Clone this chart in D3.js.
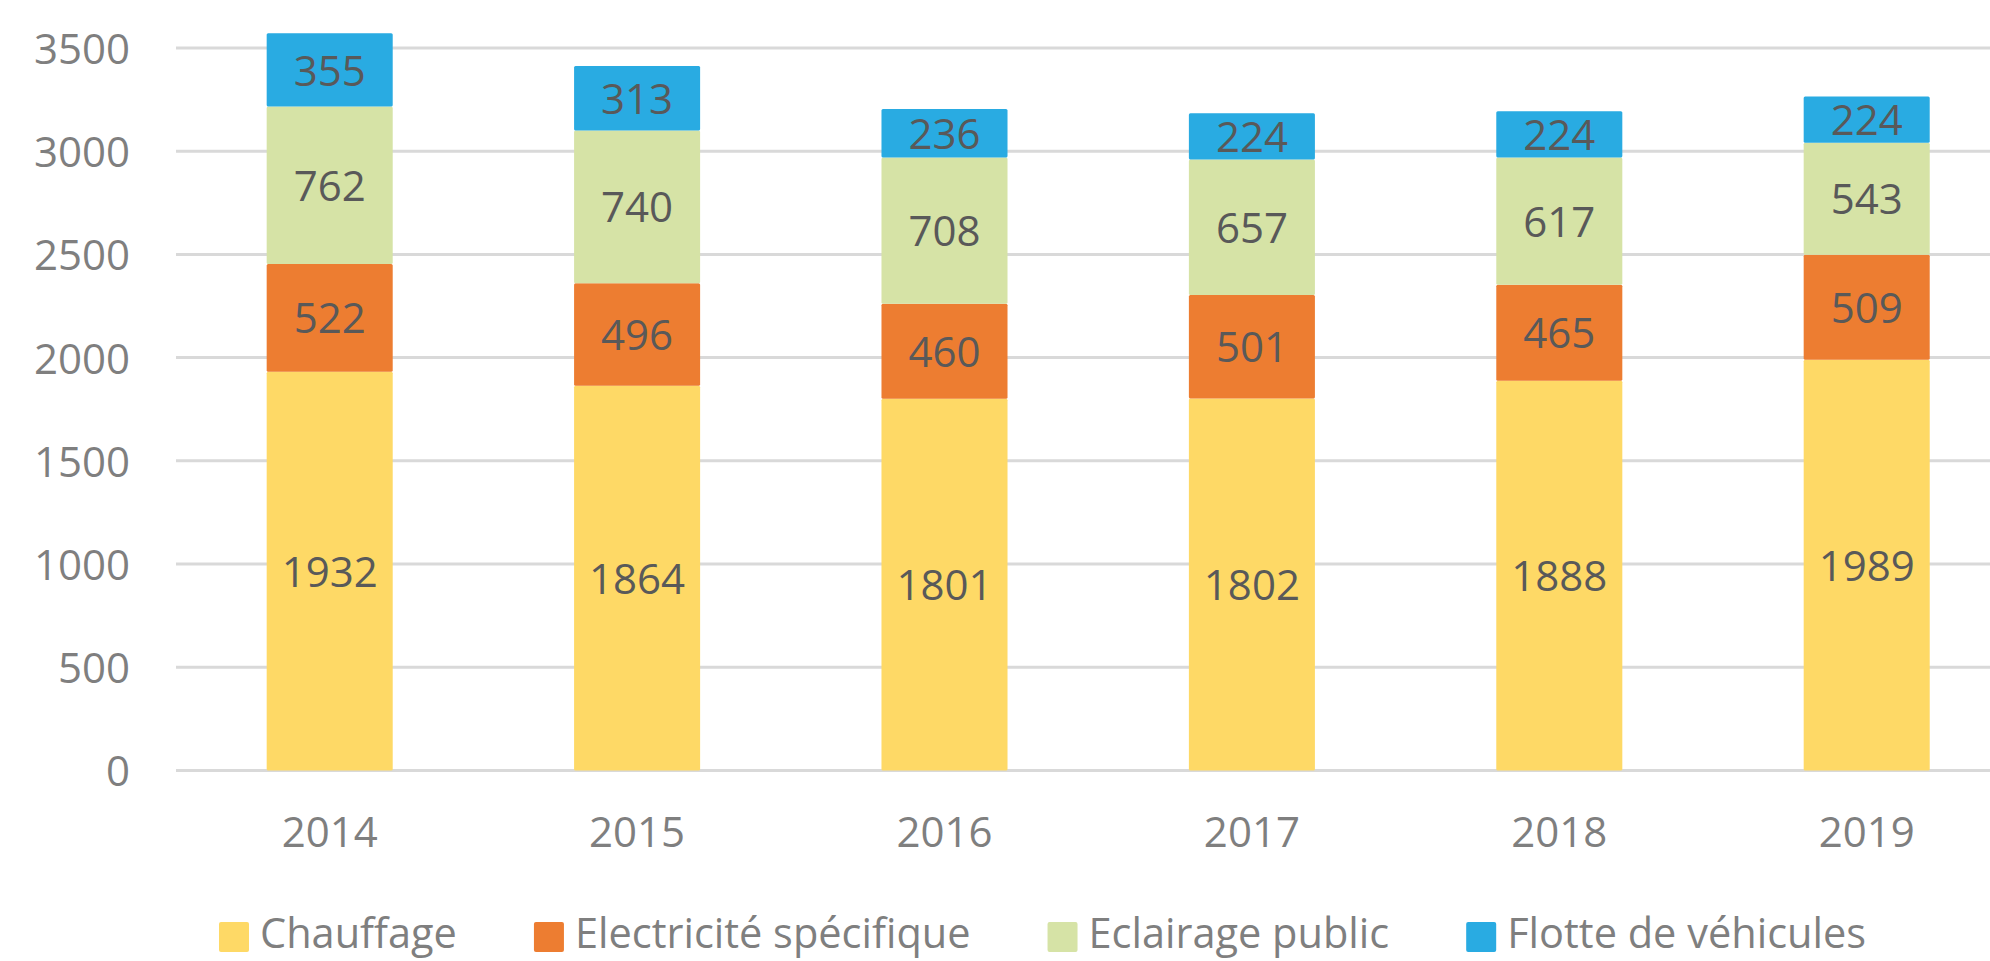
<!DOCTYPE html>
<html><head><meta charset="utf-8">
<script src="https://cdn.jsdelivr.net/npm/d3@7"></script>
<style>
html,body{margin:0;padding:0;background:#fff;}
svg{display:block;font-family:"Open Sans",sans-serif;}
</style></head>
<body>
<svg id="chart" width="1990" height="961"></svg>
<script>
const years = ["2014","2015","2016","2017","2018","2019"];
const seriesNames = ["Chauffage","Electricité spécifique","Eclairage public","Flotte de véhicules"];
const chauffage = [1932,1864,1801,1802,1888,1989];
const electricite = [522,496,460,501,465,509];
const eclairage = [762,740,708,657,617,543];
const flotte = [355,313,236,224,224,224];
const colors = ["#FED966","#ED7D31","#D6E3A6","#29ABE2"];
const yTicks = [0,500,1000,1500,2000,2500,3000,3500];

const seriesValues = [chauffage, electricite, eclairage, flotte];
const rows = years.map((y,i)=>{
  const r = {year:y};
  seriesNames.forEach((s,j)=>{ r[s] = seriesValues[j][i]; });
  return r;
});

const svg = d3.select("#chart");
const left = 176, step = 307.4;
const x = d3.scaleBand().domain(years).range([left, left + step*years.length]).paddingInner(0.59).paddingOuter(0.295);
const y = d3.scaleLinear().domain([0,3500]).range([770.4,48]);

// gridlines
svg.append("g").selectAll("line").data(yTicks).join("line")
  .attr("x1", left).attr("x2", 1990)
  .attr("y1", d=>y(d)).attr("y2", d=>y(d))
  .attr("stroke", "#D9D9D9").attr("stroke-width", 3);

// y axis labels
const yAxis = d3.axisLeft(y).tickValues(yTicks).tickFormat(d3.format("d")).tickSize(0).tickPadding(0);
const ya = svg.append("g").attr("transform", "translate(130,0)").call(yAxis);
ya.select(".domain").remove();
ya.selectAll("text").attr("font-family","Open Sans").attr("font-size",42).attr("fill","#7F7F7F").attr("dy","0.37em");

// stacks
const stack = d3.stack().keys(seriesNames)(rows);
const layers = svg.append("g").selectAll("g").data(stack).join("g")
  .attr("fill", (d,i)=>colors[i]);
layers.selectAll("rect").data(d=>d).join("rect")
  .attr("x", d=>x(d.data.year))
  .attr("width", x.bandwidth())
  .attr("y", d=>y(d[1]))
  .attr("height", d=>y(d[0])-y(d[1]))
  .attr("rx", 1.5);

// data labels
const lbl = svg.append("g");
stack.forEach((layer)=>{
  lbl.selectAll(null).data(layer).join("text")
    .attr("x", d=>x(d.data.year)+x.bandwidth()/2)
    .attr("y", d=>(y(d[0])+y(d[1]))/2)
    .attr("dy","0.37em")
    .attr("text-anchor","middle")
    .attr("font-size",42).attr("fill","#595959")
    .text(d=>d[1]-d[0]);
});

// x axis labels
const xAxis = d3.axisBottom(x).tickSize(0).tickPadding(0);
const xa = svg.append("g").attr("transform","translate(0,831)").call(xAxis);
xa.select(".domain").remove();
xa.selectAll("text").attr("font-family","Open Sans").attr("font-size",42).attr("fill","#7F7F7F").attr("dy","0.37em");

// legend
const lg = svg.append("g");
let lx = 219;
seriesNames.forEach((s,i)=>{
  lg.append("rect").attr("x",lx).attr("y",922).attr("width",30).attr("height",30).attr("rx",2).attr("fill",colors[i]);
  const t = lg.append("text").attr("x",lx+41).attr("y",948).attr("font-size",41.5).attr("fill","#7F7F7F").text(s);
  lx += 41 + t.node().getComputedTextLength() + 77;
});
</script>
</body></html>
